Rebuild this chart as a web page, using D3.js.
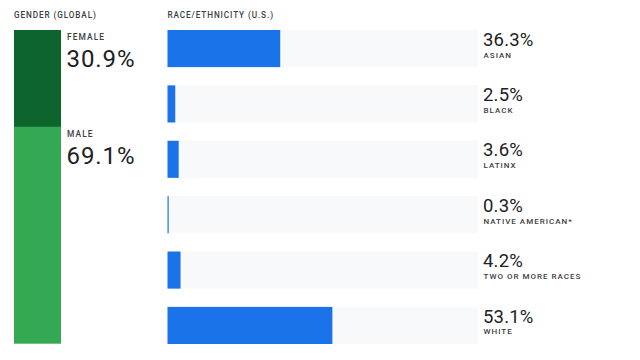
<!DOCTYPE html>
<html>
<head>
<meta charset="utf-8">
<script src="https://cdn.jsdelivr.net/npm/d3@7"></script>
<style>
  html, body { margin: 0; padding: 0; background: #fff; }
  svg { display: block; font-family: Roboto, "Noto Sans", sans-serif; }
</style>
</head>
<body>
<svg id="chart" width="640" height="360"></svg>
<script>
// ---- Data ----
const genderCategories = ["FEMALE", "MALE"];
const genderValues = [30.9, 69.1];

const raceCategories = ["ASIAN", "BLACK", "LATINX", "NATIVE AMERICAN*", "TWO OR MORE RACES", "WHITE"];
const raceValues = [36.3, 2.5, 3.6, 0.3, 4.2, 53.1];

const titles = ["GENDER (GLOBAL)", "RACE/ETHNICITY (U.S.)"];

// ---- Drawing ----
const svg = d3.select("#chart");
const fmt = d => d.toFixed(1) + "%";

// titles
svg.append("text").attr("x", 14).attr("y", 17.7).text(titles[0])
  .attr("font-size", 8.2).attr("font-weight", 500).attr("letter-spacing", 0.9).attr("fill", "#3c4043");
svg.append("text").attr("x", 167.5).attr("y", 17.7).text(titles[1])
  .attr("font-size", 8.2).attr("font-weight", 500).attr("letter-spacing", 0.9).attr("fill", "#3c4043");

// gender stacked bar
const gy = d3.scaleLinear().domain([0, 100]).range([30, 343.7]);
const gColors = d3.scaleOrdinal().domain(genderCategories).range(["#0d652d", "#34a853"]);
const cum = d3.cumsum(genderValues);
const gData = genderCategories.map((c, i) => ({ c, v: genderValues[i], start: i ? cum[i - 1] : 0, end: cum[i] }));

const gg = svg.append("g");
gg.selectAll("rect").data(gData).join("rect")
  .attr("x", 14).attr("width", 47)
  .attr("y", d => gy(d.start))
  .attr("height", d => gy(d.end) - gy(d.start))
  .attr("fill", d => gColors(d.c));
gg.selectAll("text.lab").data(gData).join("text").attr("class", "lab")
  .attr("x", 67).attr("y", d => gy(d.start) + 9.8)
  .text(d => d.c)
  .attr("font-size", 8.4).attr("font-weight", 500).attr("letter-spacing", 1.1).attr("fill", "#3c4043");
gg.selectAll("text.val").data(gData).join("text").attr("class", "val")
  .attr("x", 66.5).attr("y", d => gy(d.start) + 37)
  .text(d => fmt(d.v))
  .attr("font-size", 24).attr("letter-spacing", 0.9).attr("font-weight", 400).attr("fill", "#202124");

// race bars
const x = d3.scaleLinear().domain([0, 100]).range([167.5, 478]);
const y = d3.scaleBand().domain(raceCategories).range([30, 344]).paddingInner(0.33).paddingOuter(0);
const rData = raceCategories.map((c, i) => ({ c, v: raceValues[i] }));

const rg = svg.append("g");
rg.selectAll("rect.track").data(rData).join("rect").attr("class", "track")
  .attr("x", x(0)).attr("width", x(100) - x(0))
  .attr("y", d => y(d.c)).attr("height", y.bandwidth())
  .attr("fill", "#f8f9fa");
rg.selectAll("rect.bar").data(rData).join("rect").attr("class", "bar")
  .attr("x", x(0)).attr("width", d => Math.max(1.2, x(d.v) - x(0)))
  .attr("y", d => y(d.c)).attr("height", y.bandwidth())
  .attr("fill", "#1a73e8");
rg.selectAll("text.val").data(rData).join("text").attr("class", "val")
  .attr("x", 483).attr("y", d => y(d.c) + 15.7)
  .text(d => fmt(d.v))
  .attr("font-size", 18.5).attr("letter-spacing", 0.2).attr("font-weight", 400).attr("fill", "#202124");
rg.selectAll("text.lab").data(rData).join("text").attr("class", "lab")
  .attr("x", 483.5).attr("y", d => y(d.c) + 27.5)
  .text(d => d.c)
  .attr("font-size", 8).attr("font-weight", 500).attr("letter-spacing", 1).attr("fill", "#3c4043");
</script>
</body>
</html>
